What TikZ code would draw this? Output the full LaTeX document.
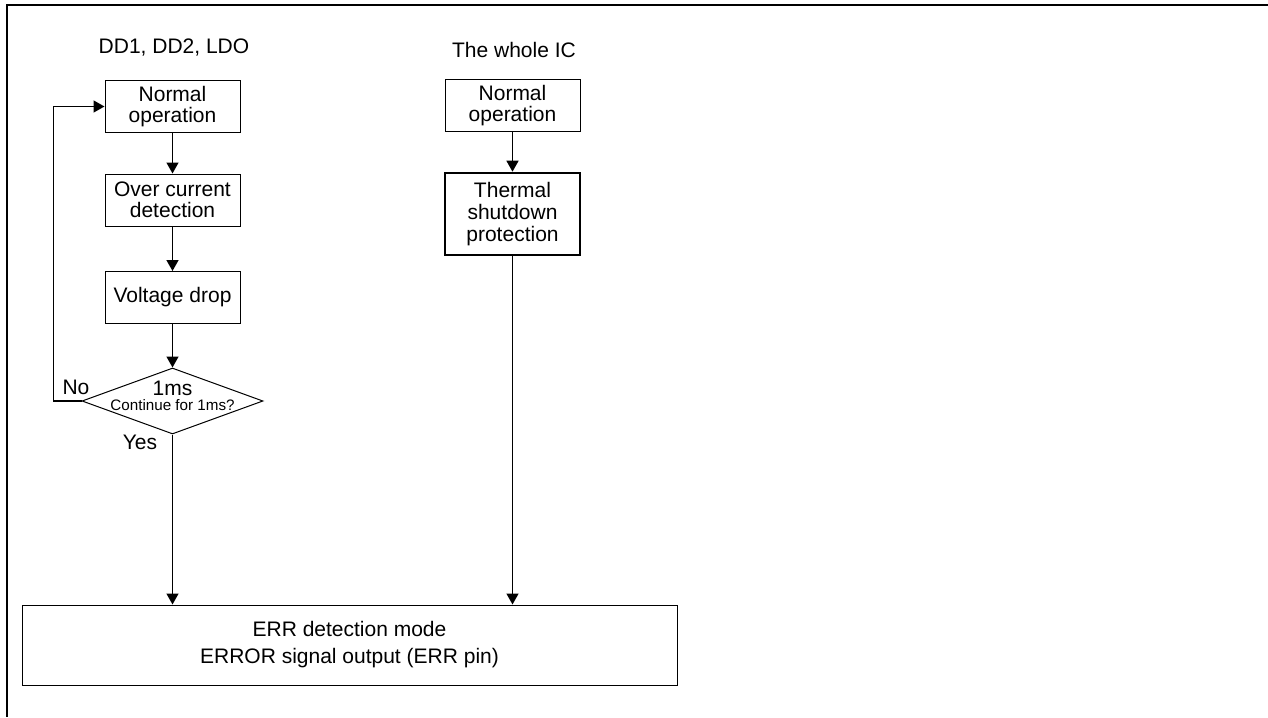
\documentclass[tikz,border=0pt]{standalone}
\usepackage{fontspec}
\setmainfont{Liberation Sans}
\usetikzlibrary{shapes.geometric, arrows.meta, positioning, calc}

\begin{document}
\begin{tikzpicture}[
    x=0.5pt, y=-0.5pt,
    stage/.style={rectangle, draw, line width=0.5pt, minimum width=67.5pt, minimum height=26pt, inner sep=1pt, align=center, font=\fontsize{10.5}{10.5}\selectfont},
    decide/.style={diamond, draw, line width=0.5pt, minimum width=90.5pt, minimum height=33pt, inner sep=0pt},
    arrow/.style={-{Triangle[length=5.5pt, width=6pt]}, line width=0.7pt},
    txt/.style={font=\fontsize{10.5}{10.5}\selectfont, inner sep=0pt}
]
\useasboundingbox (0,0) rectangle (1268,717);

% Frame
\draw[line width=1.1pt] (1268,5) -- (7,5) -- (7,717);

% Column titles
\node[txt] (tblk) at (174,48) {DD1, DD2, LDO};
\node[txt] (tic) at (514,50) {The whole IC};

% DD1, DD2, LDO column
\node[stage] (norm) at (172.5,106.5) {Normal\\operation};
\node[stage] (ocd) at (172.5,200) {Over current\\detection};
\node[stage] (vdrop) at (172.5,297.5) {Voltage drop};
\node[decide] (dec) at (172.5,401) {};
\node[txt] (dms) at (172.5,388) {1ms};
\node[txt, font=\fontsize{7.6}{7.6}\selectfont] (dq) at (172.5,405) {Continue for 1ms?};
\node[txt] (lno) at (76,387) {No};
\node[txt] (lyes) at (140,442) {Yes};

% The whole IC column
\node[stage] (norm2) at (512.5,106) {Normal\\operation};
\node[stage, line width=1.3pt, minimum height=41pt, font=\fontsize{10.5}{11}\selectfont] (tsd) at (512.5,214) {Thermal\\shutdown\\protection};

% Error output
\node[stage, minimum width=327.5pt, minimum height=40pt] (err) at (349.5,645) {ERR detection mode\\[3pt]ERROR signal output (ERR pin)};

% Links
\draw[arrow] (norm) -- (ocd);
\draw[arrow] (ocd) -- (vdrop);
\draw[arrow] (vdrop) -- (dec);
\draw[arrow] (dec.west) -- ++(-28,0) |- (norm.west);
\draw[arrow] (dec.south) -- (dec.south |- err.north);
\draw[arrow] (norm2) -- (tsd);
\draw[arrow] (tsd) -- (tsd.south |- err.north);

\end{tikzpicture}
\end{document}
